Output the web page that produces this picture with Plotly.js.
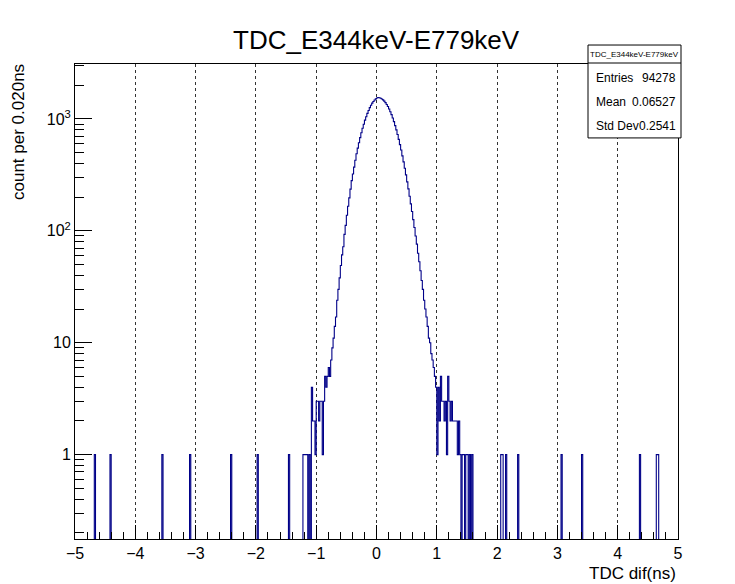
<!DOCTYPE html>
<html>
<head>
<meta charset="utf-8">
<script src="https://cdn.plot.ly/plotly-3.0.1.min.js"></script>
<style>html,body{margin:0;padding:0;background:#fff;}#chart{width:735px;height:584px;}</style>
</head>
<body>
<div id="chart"></div>
<script>
// ---- histogram binning ----
const binLow = -5;
const binWidth = 0.02;
const nBins = 500;

// ---- data ----
// contiguous core: bin centres from -1.23 to 1.59 (step 0.02)
const coreFirstCentre = -1.23;
const leftTailCounts = [0,1,1,1,1,0,1,0,4,2,2,1,3,3,2,3,3,1,3,5,4,5,6,5,7,9];
const peakCounts = [11,14,17,24,30,38,49,61,72,93,
  112,138,166,197,236,281,322,371,428,489,
  548,612,681,752,826,897,975,1046,1122,1190,
  1262,1324,1385,1430,1476,1512,1537,1556,1549,1531,
  1508,1480,1442,1398,1347,1290,1228,1161,1092,1020,
  946,872,798,726,657,590,527,468,413,362,
  316,274,237,204,174,149,126,107,90,76,
  63,53,44,36,30,24,20,17,14,11,
  10,8,7,6,5,4];
const rightTailCounts = [1,4,2,5,3,3,2,3,1,5,3,2,3,2,2,2,2,1,2,1,0,1,1,0,1,1,0,1,0,1];
// isolated single-count bins (bin centres)
const singleBinCentres = [-4.67,-4.41,-3.55,-3.09,-2.41,-1.97,-1.45,2.07,2.09,2.15,2.35,3.07,3.41,4.37,4.65,4.67];

// ---- text ----
const chartTitle = 'TDC_E344keV-E779keV';
const xTitle = 'TDC dif(ns)';
const yTitle = 'count per 0.020ns';
const statsLabels = ['Entries','Mean','Std Dev'];
const statsValues = ['94278','0.06527','0.2541'];
const xTickVals = [-5,-4,-3,-2,-1,0,1,2,3,4,5];
const yTickVals = [1,10,100,1000];
const yTickText = ['1','10','10<sup>2</sup>','10<sup>3</sup>'];

// ---- build full histogram ----
const counts = new Array(nBins).fill(0);
const coreCounts = leftTailCounts.concat(peakCounts, rightTailCounts);
function binIndex(c){ return Math.round((c - binLow)/binWidth - 0.5); }
const firstIdx = binIndex(coreFirstCentre);
coreCounts.forEach((v,k)=>{ counts[firstIdx+k] = v; });
singleBinCentres.forEach(c=>{ counts[binIndex(c)] += 1; });

const FLOOR = 1e-3; // below the axis range: empty bins drop out of the frame
const xs = [], ys = [];
for (let i=0;i<=nBins;i++){
  xs.push(binLow + i*binWidth);
  const v = counts[Math.min(i,nBins-1)];
  ys.push(v>0 ? v : FLOOR);
}

// minor tick positions for log axis
const yMinor = [];
for (let d=-1; d<=3; d++){ for (let m=2;m<=9;m++){ yMinor.push(m*Math.pow(10,d)); } }

// pixel helpers (plot area 75..678 x 64..539.5)
const L=75, R=678, T=64, B=539.5;
const px = p => (p-L)/(R-L);
const py = p => (B-p)/(B-T);

const font = 'Liberation Sans, Arial, Helvetica, sans-serif';
const navy = '#000088';

const trace = {
  x: xs, y: ys, type:'scatter', mode:'lines',
  line:{shape:'hv', color:navy, width:1.1},
  hoverinfo:'skip', showlegend:false
};

const shapes = [
  {type:'rect', xref:'paper', yref:'paper', x0:px(588), x1:px(681), y0:py(138), y1:py(45),
   line:{color:'#000', width:1}, fillcolor:'#fff', layer:'above'},
  {type:'line', xref:'paper', yref:'paper', x0:px(588), x1:px(681), y0:py(63), y1:py(63),
   line:{color:'#000', width:1}, layer:'above'}
];

const annotations = [
  {text:chartTitle, xref:'paper', yref:'paper', x:px(376.5), y:py(40), xanchor:'center', yanchor:'middle',
   showarrow:false, font:{family:font, size:26, color:'#000'}},
  {text:xTitle, xref:'paper', yref:'paper', x:1, y:py(574), xanchor:'right', yanchor:'middle',
   showarrow:false, font:{family:font, size:17, color:'#000'}},
  {text:yTitle, xref:'paper', yref:'paper', x:px(18), y:py(62), xanchor:'center', yanchor:'top', textangle:-90,
   showarrow:false, font:{family:font, size:17, color:'#000'}},
  {text:chartTitle, xref:'paper', yref:'paper', x:px(634.5), y:py(54), xanchor:'center', yanchor:'middle',
   showarrow:false, font:{family:font, size:8, color:'#000'}}
];
const rowY = [78,102,126];
statsLabels.forEach((lab,k)=>{
  annotations.push({text:lab, xref:'paper', yref:'paper', x:px(594), y:py(rowY[k]), xanchor:'left', yanchor:'middle',
    showarrow:false, font:{family:font, size:12, color:'#000'}});
  annotations.push({text:statsValues[k], xref:'paper', yref:'paper', x:px(678), y:py(rowY[k]), xanchor:'right', yanchor:'middle',
    showarrow:false, font:{family:font, size:12, color:'#000'}});
});

const layout = {
  width:735, height:584,
  margin:{l:L, r:735-R, t:T, b:584-B, pad:0},
  paper_bgcolor:'#fff', plot_bgcolor:'#fff',
  showlegend:false,
  font:{family:font, color:'#000'},
  xaxis:{
    range:[-5,5], tickmode:'array', tickvals:xTickVals,
    ticks:'inside', ticklen:14, tickwidth:1, tickcolor:'#000',
    showline:true, linecolor:'#000', linewidth:1, mirror:true,
    showgrid:true, gridcolor:'#333', gridwidth:1, griddash:'dot',
    zeroline:false, tickfont:{family:font, size:16, color:'#000'},
    minor:{dtick:0.2, tick0:-5, ticks:'inside', ticklen:7, tickcolor:'#000', showgrid:false}
  },
  yaxis:{
    type:'log', range:[-0.754, 3.491], tickmode:'array', tickvals:yTickVals, ticktext:yTickText,
    ticks:'inside', ticklen:17, tickwidth:1, tickcolor:'#000',
    showline:true, linecolor:'#000', linewidth:1, mirror:true,
    showgrid:false, zeroline:false, tickfont:{family:font, size:16, color:'#000'},
    minor:{tickmode:'array', tickvals:yMinor, ticks:'inside', ticklen:9, tickcolor:'#000', showgrid:false}
  },
  shapes:shapes, annotations:annotations
};

Plotly.newPlot('chart', [trace], layout, {staticPlot:true, displayModeBar:false});
</script>
</body>
</html>
